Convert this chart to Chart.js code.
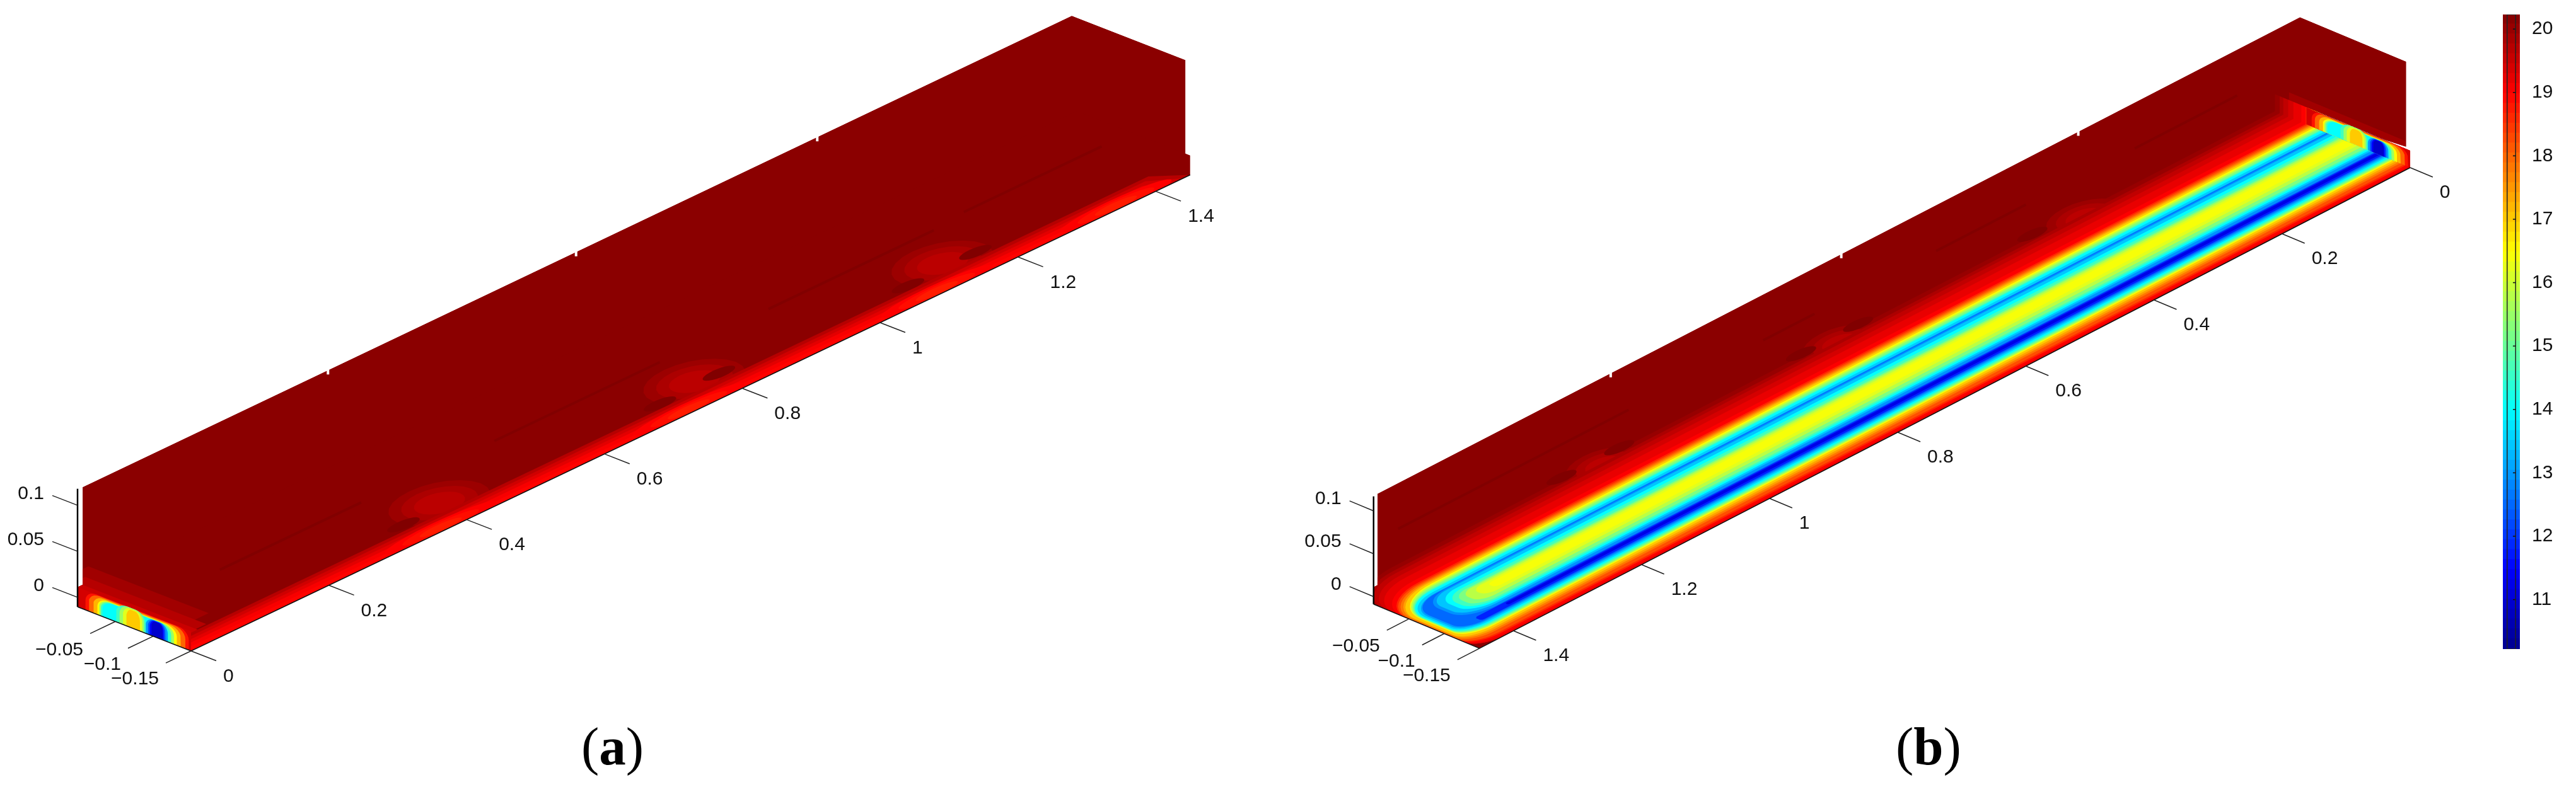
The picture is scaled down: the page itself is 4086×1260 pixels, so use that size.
<!DOCTYPE html>
<html>
<head>
<meta charset="utf-8">
<script src="https://cdn.jsdelivr.net/npm/chart.js@4/dist/chart.umd.min.js"></script>
<style>
	html, body { margin: 0; padding: 0; background: #fff; }
	#page { position: relative; width: 4086px; height: 1260px; overflow: hidden; }
	canvas { position: absolute; display: block; }
	.cap { position: absolute; top: 1129px; font: 85px "Liberation Serif", serif; line-height: 110px; color: #000; }
</style>
</head>
<body>
<div id="page">
	<canvas id="surface" width="4086" height="1260" style="left:0;top:0"></canvas>
	<canvas id="colorbar" width="186" height="1260" style="left:3900px;top:0"></canvas>
	<div class="cap" style="left:922px">(<b>a</b>)</div>
	<div class="cap" style="left:3007px">(<b>b</b>)</div>
</div>
<script>
// axis ticks
var xTicks = [0, 0.2, 0.4, 0.6, 0.8, 1, 1.2, 1.4];
var xTickLabels = ['0', '0.2', '0.4', '0.6', '0.8', '1', '1.2', '1.4'];
var yTicks = [-0.05, -0.1, -0.15];
var yTickLabels = ['\u22120.05', '\u22120.1', '\u22120.15'];
var zTicks = [0, 0.05, 0.1];
var zTickLabels = ['0', '0.05', '0.1'];
var colorbarTicks = [11, 12, 13, 14, 15, 16, 17, 18, 19, 20];

// colour scale
var tempMin = 10.22;
var tempMax = 20.23;
var jetStops = [0, 0.125, 0.375, 0.625, 0.875, 1];
var jetRed = [0, 0, 0, 255, 255, 128];
var jetGreen = [0, 0, 255, 255, 0, 0];
var jetBlue = [143, 255, 255, 0, 0, 0];
var wallTemp = 20.12;
var streakTemp = 20.22;

// (b) nested contours over the floor: temperature, front and back y, near end x, corner radii
var bLevelT = [20.0, 19.8, 19.6, 19.4, 19.2, 19.0, 18.6, 18.2, 17.8, 17.4, 17.0, 16.4, 15.8, 15.2, 14.6, 14.0, 13.5, 13.0, 12.5, 11.8, 11.2];
var bLevelFront = [-0.15, -0.15, -0.15, -0.15, -0.15, -0.1468, -0.1432, -0.1405, -0.1357, -0.1325, -0.1293, -0.1258, -0.124, -0.1225, -0.1205, -0.1185, -0.116, -0.1135, -0.1115, -0.1095, -0.1065];
var bLevelBack = [0.0416, 0.0348, 0.0297, 0.0228, 0.0154, 0.0042, -0.0021, -0.0045, -0.0069, -0.0091, -0.0111, -0.0139, -0.0165, -0.0194, -0.0225, -0.0244, -0.028, -0.0315, -0.0323, -0.0995, -0.1015];
var bLevelEnd = [1.453, 1.453, 1.453, 1.453, 1.453, 1.453, 1.453, 1.453, 1.452, 1.45, 1.449, 1.445, 1.444, 1.443, 1.442, 1.441, 1.439, 1.436, 1.433, 1.405, 1.36];
var bLevelRadBack = [0.05, 0.045, 0.045, 0.045, 0.045, 0.045, 0.045, 0.045, 0.045, 0.045, 0.045, 0.045, 0.042, 0.04, 0.037, 0.035, 0.032, 0.03, 0.028, 0.003, 0.002];
var bLevelRadFront = [0.02, 0.02, 0.02, 0.02, 0.02, 0.02, 0.02, 0.02, 0.02, 0.02, 0.02, 0.02, 0.02, 0.02, 0.02, 0.02, 0.019, 0.018, 0.017, 0.003, 0.002];

// (b) the island between the two channels
var bIslandT = [12.9, 13.4, 14.0, 14.6, 15.2, 15.8, 16.2, 16.4];
var bIslandFront = [-0.0985, -0.0945, -0.0915, -0.0885, -0.0855, -0.0805, -0.075, -0.07];
var bIslandBack = [-0.0335, -0.0355, -0.0403, -0.045, -0.049, -0.0515, -0.0546, -0.058];
var bIslandEnd = [1.415, 1.41, 1.4, 1.393, 1.385, 1.375, 1.36, 1.34];
var bIslandRad = [0.024, 0.022, 0.02, 0.018, 0.015, 0.012, 0.009, 0.005];

// (b) marks on the back wall
var bPatchX = [0.31, 0.69, 1.06];
var bPatchY = [0.03, 0.03, 0.03];
var bSpotX = [0.375, 0.647, 0.736, 1.02, 1.11];
var bSpotY = [0.045, 0.045, 0.045, 0.045, 0.045];
var bStreakStart = [0, 0.33, 0.66, 0.95];
var bStreakEnd = [0.16, 0.47, 0.74, 1.31];
var bStreakY = [0.095, 0.095, 0.095, 0.095];
var bNotchX = [0.36, 0.73, 1.09];

// rings of a warm patch, outside to inside
var patchRingT = [19.95, 19.8, 19.65];
var patchRingSize = [1, 0.75, 0.5];

// (a) warm strip along the front edge
var aStripT = [19.7, 19.45, 19.25, 19.05, 18.95];
var aStripY = [-0.122, -0.127, -0.132, -0.137, -0.143];
var aStripEnd = [1.45, 1.44, 1.43, 1.42, 1.4];

// (a) warmer floor beside the x = 0 end
var aEndT = [19.9, 19.7, 19.5];
var aEndX = [0.075, 0.055, 0.04];
var aEndBack = [0.054, 0.04, 0.03];
var aEndFront = [-0.105, -0.12, -0.13];

// (a) marks on the floor
var aPatchX = [0.41, 0.78, 1.14];
var aPatchY = [-0.105, -0.105, -0.105];
var aBrightX = [0.37, 0.73, 1.09, 1.35];
var aBrightRingT = [19.0, 18.85, 18.7];
var aBrightRingX = [0.08, 0.055, 0.03];
var aBrightRingY = [0.012, 0.009, 0.006];
var aSpotX = [0.35, 0.72, 0.81, 1.08, 1.18];
var aSpotY = [-0.112, -0.114, -0.11, -0.114, -0.112];
var aStreakStart = [0.155, 0.55, 0.95, 1.24];
var aStreakEnd = [0.36, 0.79, 1.19, 1.44];
var aStreakY = [-0.047, -0.05, -0.048, -0.042];
var aNotchX = [0.355, 0.715, 1.065];

// the x = 0 end face, same in both panels: fraction across, fraction up, temperature
var faceT = [19.4, 18.8, 18.0, 17.2, 16.5, 15.5, 14.5, 14.0, 14.6, 15.5, 16.2, 17.0, 13.0, 12.2, 11.5, 10.9];
var faceStart = [0.02, 0.07, 0.1, 0.14, 0.175, 0.19, 0.205, 0.22, 0.34, 0.37, 0.4, 0.43, 0.6, 0.62, 0.635, 0.65];
var faceEnd = [1, 0.98, 0.95, 0.91, 0.875, 0.85, 0.825, 0.8, 0.6, 0.585, 0.57, 0.55, 0.795, 0.775, 0.76, 0.75];
var faceTop = [1, 1, 0.97, 0.92, 0.88, 0.86, 0.84, 0.82, 1, 1, 0.96, 0.9, 0.84, 0.82, 0.8, 0.78];

var panelA = {
	ox: 303, oy: 1033, exX: 1093, exY: -521, eyX: -1200, eyY: -467, ezY: -1460,
	zb: -0.0103, zs: 0.011, zt: 0.122, zAxisTop: 0.118,
	near: 0, far: 1.45, wallNear: 0, wallFar: 1.4355, wallBack: -0.0067, wallEnd: -0.157, wallBase: 0.018,
	xTickLen: -0.0333, yTickLen: -0.0366, zTickLen: 0.0333
};
var panelB = {
	ox: 3823, oy: 266, exX: -1016, exY: 525, eyX: -1120, eyY: -467, ezY: -1360,
	zb: -0.0088, zs: 0.011, zt: 0.122, zAxisTop: 0.117,
	near: 1.453, far: 0, wallNear: 1.453, wallFar: 0.0128, wallBack: -0.0055, wallEnd: -0.156, wallBase: 0.0225,
	xTickLen: -0.032, yTickLen: 0.0344, zTickLen: 0.034
};

function project(p, x, y, z) {
	var s = y + 0.15;
	return {
		x: p.ox + p.exX * x + p.eyX * s,
		y: p.oy + p.exY * x + p.eyY * s + p.ezY * (z - p.zb)
	};
}

function jet(t) {
	var f = Math.min(1, Math.max(0, (t - tempMin) / (tempMax - tempMin)));
	var i = 0;
	while (i < jetStops.length - 2 && f > jetStops[i + 1]) i++;
	var k = (f - jetStops[i]) / (jetStops[i + 1] - jetStops[i]);
	function mix(a) { return Math.round(a[i] + (a[i + 1] - a[i]) * k); }
	return 'rgb(' + mix(jetRed) + ',' + mix(jetGreen) + ',' + mix(jetBlue) + ')';
}

var surfaceSets = [];
var axisSets = [];
var labels = [];

function addPolygon(p, pts, t) {
	surfaceSets.push({
		data: pts.map(function(q) { return project(p, q[0], q[1], q[2]); }),
		showLine: true, fill: 'shape', backgroundColor: jet(t), borderWidth: 0, pointRadius: 0
	});
}

function addEllipse(p, x, y, rx, ry, t) {
	var pts = [];
	for (var i = 0; i < 24; i++) {
		var a = i / 24 * Math.PI * 2;
		pts.push([x + rx * Math.cos(a), y + ry * Math.sin(a), p.zb]);
	}
	addPolygon(p, pts, t);
}

function addPatches(p, xs, ys, rx, ry) {
	patchRingT.forEach(function(t, r) {
		xs.forEach(function(x, i) { addEllipse(p, x, ys[i], rx * patchRingSize[r], ry * patchRingSize[r], t); });
	});
}

// contour running from the far end to a rounded near end
function addContour(p, front, back, end, radFront, radBack, t) {
	var dir = p.near > p.far ? 1 : -1;
	var pts = [[p.far, front, p.zs], [p.far, back, p.zs], [p.far, back, p.zb]];
	var i, a;
	var rxB = radBack * 1.5, rxF = radFront * 2;
	for (i = 0; i <= 10; i++) {
		a = i / 10 * Math.PI / 2;
		pts.push([end - dir * rxB * (1 - Math.sin(a)), back - radBack * (1 - Math.cos(a)), p.zb]);
	}
	for (i = 0; i <= 10; i++) {
		a = i / 10 * Math.PI / 2;
		pts.push([end - dir * rxF * (1 - Math.cos(a)), front + radFront * (1 - Math.sin(a)), p.zb]);
	}
	pts.push([p.far, front, p.zb]);
	addPolygon(p, pts, t);
}

function addFaceColumn(p, i) {
	var y0 = -0.15 * faceStart[i], y1 = -0.15 * faceEnd[i];
	var h = (p.zs - p.zb) * faceTop[i];
	var ry = Math.min(Math.abs(y1 - y0) * 0.35, 0.014);
	var rz = h * 0.5;
	if (i === 0) { rz = 0.0001; ry = 0.0001; }
	var pts = [[0, y0, p.zb]];
	var j, a;
	for (j = 0; j <= 6; j++) {
		a = j / 6 * Math.PI / 2;
		pts.push([0, y0 - ry * (1 - Math.cos(a)), p.zb + h - rz * (1 - Math.sin(a))]);
	}
	for (j = 0; j <= 6; j++) {
		a = j / 6 * Math.PI / 2;
		pts.push([0, y1 + ry * (1 - Math.sin(a)), p.zb + h - rz * (1 - Math.cos(a))]);
	}
	pts.push([0, y1, p.zb]);
	addPolygon(p, pts, faceT[i]);
}

function wallOutline(p) {
	return [
		[p.wallNear, p.wallBack, p.zt], [p.wallFar, p.wallBack, p.zt], [p.wallFar, p.wallEnd, p.zt],
		[p.wallFar, p.wallEnd, p.wallBase], [p.wallFar, p.wallBack, p.zs], [p.wallNear, p.wallBack, p.zs]
	];
}

function floorOutlineA(p) {
	return [
		[0, -0.15, p.zb], [p.far, -0.15, p.zb], [p.far, -0.15, p.zs],
		[p.far, 0, p.zs], [0, 0, p.zs], [0, 0, p.zb]
	];
}

function floorOutlineB(p) {
	return [
		[0, -0.15, p.zb], [p.near, -0.15, p.zb], [p.near, 0, p.zb],
		[p.near, 0, p.zs], [0, 0, p.zs], [0, -0.15, p.zs]
	];
}

function addStreaks(p, starts, ends, ys, t) {
	starts.forEach(function(s, i) {
		surfaceSets.push({
			data: [project(p, s, ys[i], p.zb), project(p, ends[i], ys[i], p.zb)],
			showLine: true, borderColor: jet(t), borderWidth: 4, pointRadius: 0, fill: false
		});
	});
}

function addAxisLine(a, b, colour, width) {
	axisSets.push({
		data: [a, b], showLine: true, borderColor: colour, borderWidth: width, pointRadius: 0, fill: false
	});
}

function addAxes(p, notches) {
	addAxisLine(project(p, p.near, 0, p.zb), project(p, p.near, 0, p.zAxisTop), '#000', 2.5);
	addAxisLine(project(p, 0, -0.15, p.zb), project(p, p.near > p.far ? p.near : p.far, -0.15, p.zb), '#111', 1.5);
	addAxisLine(project(p, p.near, 0, p.zb), project(p, p.near, -0.15, p.zb), '#111', 1.5);

	xTicks.forEach(function(v, i) {
		var end = project(p, v, -0.15 + p.xTickLen, p.zb);
		addAxisLine(project(p, v, -0.15, p.zb), end, '#222', 1.5);
		labels.push({ x: end.x + 11, y: end.y + 25, text: xTickLabels[i], align: 'left' });
	});
	yTicks.forEach(function(v, i) {
		var end = project(p, p.near + p.yTickLen, v, p.zb);
		addAxisLine(project(p, p.near, v, p.zb), end, '#222', 1.5);
		labels.push({ x: end.x - 11, y: end.y + 26, text: yTickLabels[i], align: 'right' });
	});
	zTicks.forEach(function(v, i) {
		var end = project(p, p.near, p.zTickLen, v);
		addAxisLine(project(p, p.near, 0, v), end, '#222', 1.5);
		labels.push({ x: end.x - 13, y: end.y - 3, text: zTickLabels[i], align: 'right' });
	});
	notches.forEach(function(v) {
		addAxisLine(project(p, v, p.wallBack - 0.001, p.zt + 0.002), project(p, v, p.wallBack - 0.001, p.zt - 0.004), '#fff', 4);
	});
}

// panel (a)
addPolygon(panelA, wallOutline(panelA), wallTemp);
addPolygon(panelA, floorOutlineA(panelA), wallTemp);
aEndT.forEach(function(t, i) {
	addPolygon(panelA, [[0, aEndFront[i], panelA.zb], [aEndX[i], aEndFront[i], panelA.zb], [aEndX[i], aEndBack[i], panelA.zb], [0, aEndBack[i], panelA.zb]], t);
});
addStreaks(panelA, aStreakStart, aStreakEnd, aStreakY, streakTemp);
addPatches(panelA, aPatchX, aPatchY, 0.06, 0.04);
aSpotX.forEach(function(x, i) { addEllipse(panelA, x, aSpotY[i], 0.022, 0.008, streakTemp); });
aStripT.forEach(function(t, i) {
	addPolygon(panelA, [[0, -0.15, panelA.zb], [aStripEnd[i], -0.15, panelA.zb], [aStripEnd[i] - 0.03, aStripY[i], panelA.zb], [0, aStripY[i], panelA.zb]], t);
});
aBrightRingT.forEach(function(t, r) {
	aBrightX.forEach(function(x) { addEllipse(panelA, x, -0.143, aBrightRingX[r], aBrightRingY[r], t); });
});
faceT.forEach(function(t, i) { addFaceColumn(panelA, i); });

// panel (b)
addPolygon(panelB, wallOutline(panelB), wallTemp);
addPolygon(panelB, floorOutlineB(panelB), wallTemp);
addPolygon(panelB, [[panelB.wallFar, 0.01, panelB.zs], [panelB.wallFar, 0.01, panelB.zs + 0.018], [panelB.wallFar, -0.155, panelB.zs + 0.018], [panelB.wallFar, -0.155, panelB.zs]], 19.9);
addStreaks(panelB, bStreakStart, bStreakEnd, bStreakY, streakTemp);
bLevelT.forEach(function(t, i) {
	addContour(panelB, bLevelFront[i], bLevelBack[i], bLevelEnd[i], bLevelRadFront[i], bLevelRadBack[i], t);
	if (i === 0) {
		addPatches(panelB, bPatchX, bPatchY, 0.05, 0.03);
		bSpotX.forEach(function(x, j) { addEllipse(panelB, x, bSpotY[j], 0.022, 0.008, streakTemp); });
	}
});
bIslandT.forEach(function(t, i) {
	addContour(panelB, bIslandFront[i], bIslandBack[i], bIslandEnd[i], bIslandRad[i], bIslandRad[i], t);
});
faceT.forEach(function(t, i) { addFaceColumn(panelB, i); });

addAxes(panelA, aNotchX);
addAxes(panelB, bNotchX);

// chart.js paints the first dataset last
var allSets = surfaceSets.concat(axisSets).reverse();
var lastSurfaceIndex = axisSets.length;

function traceOutline(ctx, chart, p, pts) {
	var sx = chart.scales.x, sy = chart.scales.y;
	var q = pts.map(function(v) { return project(p, v[0], v[1], v[2]); });
	var area = 0;
	q.forEach(function(a, i) {
		var b = q[(i + 1) % q.length];
		area += a.x * b.y - b.x * a.y;
	});
	if (area < 0) q.reverse();
	q.forEach(function(a, i) {
		var px = sx.getPixelForValue(a.x), py = sy.getPixelForValue(a.y);
		if (i === 0) ctx.moveTo(px, py); else ctx.lineTo(px, py);
	});
	ctx.closePath();
}

var surfacePlugin = {
	id: 'surfaceClip',
	beforeDatasetsDraw: function(chart) {
		var ctx = chart.ctx;
		ctx.save();
		ctx.beginPath();
		traceOutline(ctx, chart, panelA, wallOutline(panelA));
		traceOutline(ctx, chart, panelA, floorOutlineA(panelA));
		traceOutline(ctx, chart, panelB, wallOutline(panelB));
		traceOutline(ctx, chart, panelB, floorOutlineB(panelB));
		ctx.clip();
	},
	afterDatasetDraw: function(chart, args) {
		if (args.index === lastSurfaceIndex) chart.ctx.restore();
	},
	afterDatasetsDraw: function(chart) {
		var ctx = chart.ctx;
		ctx.save();
		ctx.fillStyle = '#111';
		ctx.font = '30px "Liberation Sans", Arial, sans-serif';
		ctx.textBaseline = 'middle';
		labels.forEach(function(l) {
			ctx.textAlign = l.align;
			ctx.fillText(l.text, chart.scales.x.getPixelForValue(l.x), chart.scales.y.getPixelForValue(l.y));
		});
		ctx.restore();
	}
};

new Chart(document.getElementById('surface'), {
	type: 'scatter',
	data: { datasets: allSets },
	options: {
		responsive: false,
		animation: false,
		layout: { padding: 0 },
		scales: {
			x: { type: 'linear', min: 0, max: 4086, display: false },
			y: { type: 'linear', min: 0, max: 1260, reverse: true, display: false }
		},
		plugins: { legend: { display: false }, tooltip: { enabled: false } }
	},
	plugins: [surfacePlugin]
});

// colour bar
var barSets = [];
var binCount = 64;
for (var b = 0; b < binCount; b++) {
	var lo = tempMin + (tempMax - tempMin) * b / binCount;
	var hi = tempMin + (tempMax - tempMin) * (b + 1) / binCount;
	barSets.push({
		type: 'bar',
		data: [[lo, hi + 0.01]],
		backgroundColor: jet((lo + hi) / 2),
		barPercentage: 1,
		categoryPercentage: 1,
		grouped: false,
		order: 2
	});
}
colorbarTicks.forEach(function(v) {
	barSets.push({
		type: 'line', xAxisID: 'tx',
		data: [{ x: 0.68, y: v }, { x: 1, y: v }],
		borderColor: '#111', borderWidth: 1.5, pointRadius: 0, order: 1
	});
});
barSets.push({
	type: 'line', xAxisID: 'tx',
	data: [{ x: 0, y: tempMin }, { x: 1, y: tempMin }, { x: 1, y: tempMax }, { x: 0, y: tempMax }, { x: 0, y: tempMin }],
	borderColor: '#222', borderWidth: 1.5, pointRadius: 0, order: 0
});

new Chart(document.getElementById('colorbar'), {
	type: 'bar',
	data: { labels: ['T'], datasets: barSets },
	options: {
		responsive: false,
		animation: false,
		layout: { padding: { left: 70, top: 23, bottom: 230, right: 0 } },
		scales: {
			x: { display: false },
			tx: { type: 'linear', min: 0, max: 1, display: false },
			y: {
				type: 'linear', position: 'right', min: tempMin, max: tempMax,
				afterBuildTicks: function(axis) {
					axis.ticks = colorbarTicks.map(function(v) { return { value: v }; });
				},
				afterFit: function(axis) {
					axis.width = 89;
					axis.paddingTop = 0;
					axis.paddingBottom = 0;
				},
				grid: { display: false },
				border: { display: false },
				ticks: {
					color: '#111', padding: 11,
					font: { family: '"Liberation Sans", Arial, sans-serif', size: 30 },
					autoSkip: false
				}
			}
		},
		plugins: { legend: { display: false }, tooltip: { enabled: false } }
	}
});
</script>
</body>
</html>
